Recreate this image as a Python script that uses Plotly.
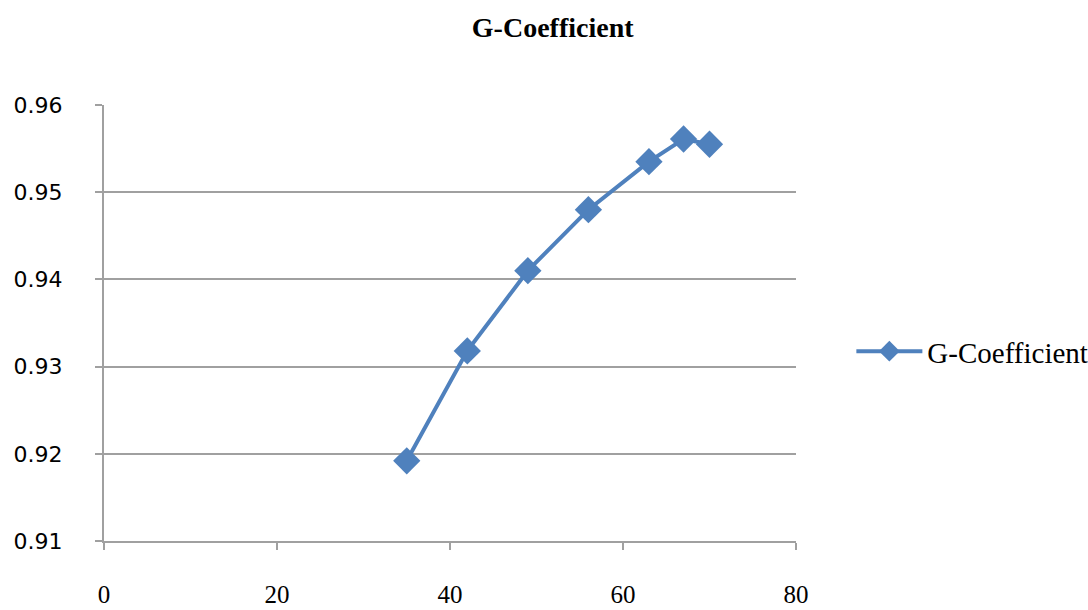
import plotly.graph_objects as go

# G-Coefficient against x
x_vals = [35, 42, 49, 56, 63, 67, 70]
g_coef = [0.9192, 0.9318, 0.9410, 0.9480, 0.9535, 0.9561, 0.9555]
series_name = "G-Coefficient"
title_text = "G-Coefficient"

x_ticks = [0, 20, 40, 60, 80]
y_ticks = [0.91, 0.92, 0.93, 0.94, 0.95, 0.96]

blue = "#4F81BD"
grid = "#A0A0A0"

fig = go.Figure()
fig.add_trace(go.Scatter(
    x=x_vals, y=g_coef, name=series_name,
    mode="lines+markers",
    line=dict(color=blue, width=4),
    marker=dict(symbol="diamond", size=21, color=blue),
))

fig.update_layout(
    width=1088, height=610,
    margin=dict(l=104, r=292, t=105, b=69, autoexpand=False),
    paper_bgcolor="white", plot_bgcolor="white",
    title=dict(text="<b>" + title_text + "</b>", x=0.508, xref="container", xanchor="center",
               y=1 - 27 / 610, yref="container", yanchor="middle",
               font=dict(family="Liberation Serif", size=28, color="black")),
    showlegend=True,
    legend=dict(x=1.08, y=0.435, xanchor="left", yanchor="middle",
                font=dict(family="Liberation Serif", size=29, color="black"),
                bgcolor="rgba(0,0,0,0)", itemwidth=66),
    xaxis=dict(range=[0, 80], tickvals=x_ticks, showgrid=False, zeroline=False,
               showline=True, linecolor=grid, linewidth=2, automargin=False,
               ticks="outside", ticklen=7, tickcolor=grid, tickwidth=2,
               tickfont=dict(family="Liberation Serif", size=25, color="black"),
               ticklabelstandoff=23),
    yaxis=dict(range=[0.91, 0.96], tickvals=y_ticks, tickformat=".2f",
               showgrid=True, gridcolor=grid, gridwidth=2, zeroline=False,
               showline=True, linecolor=grid, linewidth=2, automargin=False,
               ticks="outside", ticklen=7, tickcolor=grid, tickwidth=2,
               tickfont=dict(family="DejaVu Sans", size=22, color="black"),
               ticklabelstandoff=28),
)

fig.write_html("out.html")
